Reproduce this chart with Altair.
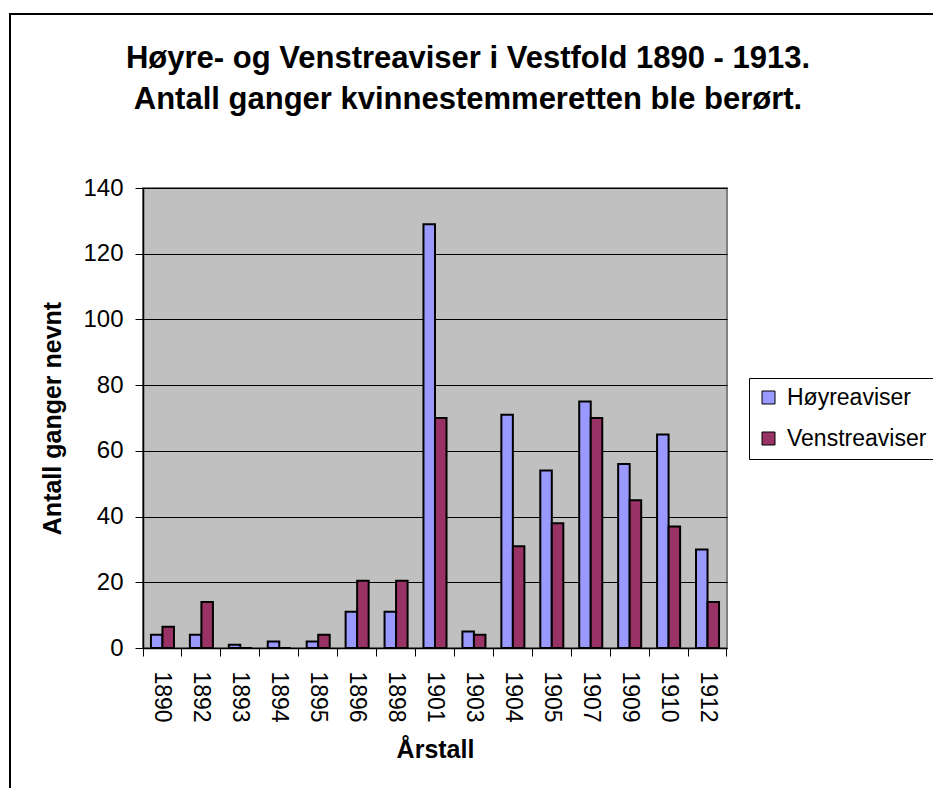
import altair as alt
import pandas as pd

years = ["1890", "1892", "1893", "1894", "1895", "1896", "1898", "1901",
         "1903", "1904", "1905", "1907", "1909", "1910", "1912"]
hoyre = [4, 4, 1, 2, 2, 11, 11, 129, 5, 71, 54, 75, 56, 65, 30]
venstre = [6.5, 14, 0, 0, 4, 20.5, 20.5, 70, 4, 31, 38, 70, 45, 37, 14]
series = ["Høyreaviser", "Venstreaviser"]
colors = ["#9999FF", "#993366"]
y_ticks = [0, 20, 40, 60, 80, 100, 120, 140]

rows = []
for i, yr in enumerate(years):
    rows.append({"year": yr, "serie": series[0], "value": hoyre[i]})
    rows.append({"year": yr, "serie": series[1], "value": venstre[i]})
df = pd.DataFrame(rows)

FONT = "Liberation Sans"
W, H = 584, 460

bars = alt.Chart(df).mark_bar(stroke="black", strokeWidth=2).encode(
    x=alt.X("year:N", sort=years, title="Årstall",
            scale=alt.Scale(paddingInner=0, paddingOuter=0),
            axis=alt.Axis(labelAngle=90, bandPosition=1, tickExtra=True,
                          labelPadding=15, tickSize=8,
                          labelFontSize=23, grid=False,
                          titleX=W / 2, titleY=101, titleAlign="center",
                          titleBaseline="middle", titleFontSize=25)),
    xOffset=alt.XOffset("serie:N", sort=series,
                        scale=alt.Scale(paddingInner=0, paddingOuter=0.69)),
    y=alt.Y("value:Q", title="Antall ganger nevnt",
            scale=alt.Scale(domain=[0, 140], nice=False),
            axis=alt.Axis(values=y_ticks, grid=True, tickSize=8, labelPadding=12,
                          labelFontSize=24, titleAngle=270, titleX=-91, titleY=H / 2,
                          titleAlign="center", titleBaseline="middle",
                          titleFontSize=25)),
    color=alt.Color("serie:N", sort=series,
                    scale=alt.Scale(domain=series, range=colors),
                    legend=alt.Legend(title=None, orient="none", legendX=606, legendY=190,
                                      strokeColor="black", fillColor="white", padding=8,
                                      symbolType="square", symbolSize=169,
                                      symbolStrokeColor="black", symbolStrokeWidth=1,
                                      labelFont=FONT, labelFontSize=23, labelOffset=7,
                                      rowPadding=17, labelColor="black")),
)

frame = alt.Chart(alt.Data(values=[{}])).mark_rect(
    filled=False, stroke="black", strokeWidth=2
).encode(
    x=alt.value(-133), x2=alt.value(900), y=alt.value(-174), y2=alt.value(700)
)

chart = alt.layer(frame, bars).properties(
    width=W, height=H,
    autosize=alt.AutoSizeParams(type="none"),
    padding={"left": 135, "top": 180, "right": 206, "bottom": 140},
    title=alt.TitleParams(
        text=["Høyre- og Venstreaviser i Vestfold 1890 - 1913.",
              "Antall ganger kvinnestemmeretten ble berørt."],
        font=FONT, fontSize=31, fontWeight="bold", color="black",
        anchor="middle", frame="group", dx=33, offset=-103, lineHeight=41),
).configure(
    background="white",
).configure_view(
    fill="#C0C0C0", stroke="#808080", strokeWidth=2
).configure_axis(
    labelFont=FONT, titleFont=FONT, labelColor="black", titleColor="black",
    titleFontWeight="bold", domainColor="black", tickColor="black",
    gridColor="#000000", gridWidth=1, domainWidth=1.5,
)

chart.save("out.html", embed_options={"renderer": "svg", "actions": False})
